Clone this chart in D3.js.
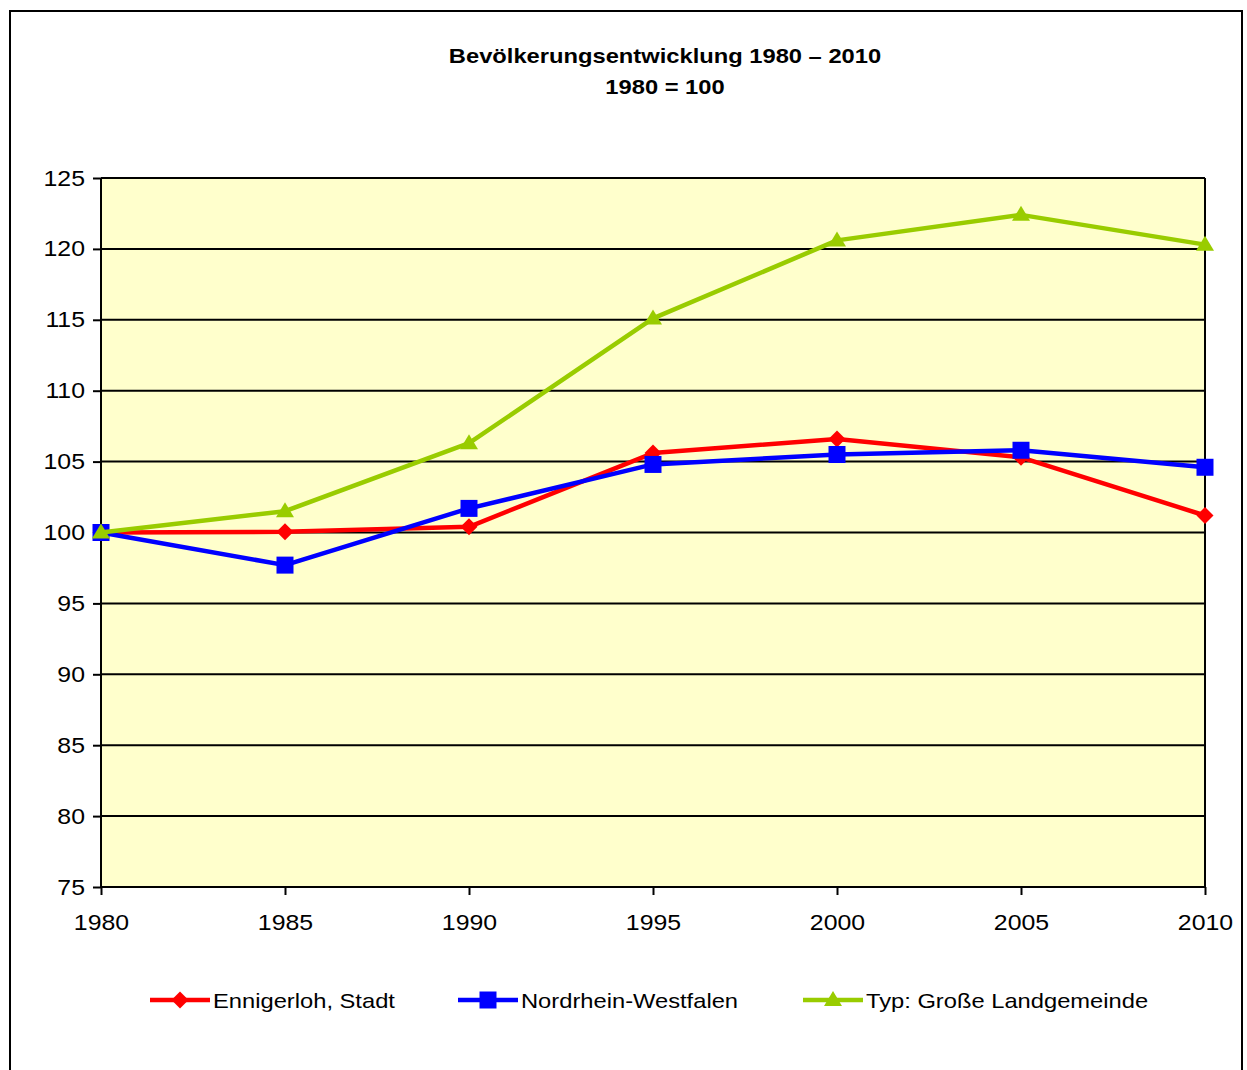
<!DOCTYPE html>
<html>
<head>
<meta charset="utf-8">
<script src="https://cdn.jsdelivr.net/npm/d3@7"></script>
<style>
body{margin:0;background:#fff;}
svg{display:block;font-family:"Liberation Sans",Arial,sans-serif;}
</style>
</head>
<body>
<div id="plot"></div>
<script>
// data
var years = [1980,1985,1990,1995,2000,2005,2010];
var ennigerloh = [100,100.05,100.4,105.6,106.6,105.3,101.2];
var nrw = [100,97.7,101.7,104.8,105.5,105.8,104.6];
var landgemeinde = [100,101.5,106.3,115.1,120.6,122.4,120.3];
var seriesNames = ['Ennigerloh, Stadt','Nordrhein-Westfalen','Typ: Große Landgemeinde'];
var yTicks = [75,80,85,90,95,100,105,110,115,120,125];

var W = 1247, H = 1070;
var margin = {t:178,r:42,b:183,l:101};
var width = W-margin.l-margin.r,
	height = H-margin.t-margin.b;
var sx = 1.13; //text in the original is a bit wider than Arial

var svg = d3.select('#plot')
	.append('svg')
	.attr('width',W)
	.attr('height',H);

//puts a horizontally stretched text at x,y
function addText(g,x,y,txt,size,anchor,bold){
	return g.append('text')
		.attr('transform','translate('+x+','+y+') scale('+sx+',1)')
		.attr('text-anchor',anchor)
		.style('font-size',size+'px')
		.style('font-weight',bold?'bold':'normal')
		.text(txt);
}

//outer frame
svg.append('rect')
	.attr('x',10).attr('y',11)
	.attr('width',1232).attr('height',1080)
	.style('fill','none').style('stroke','#000').style('stroke-width',2);

//title
addText(svg,665,63,'Bevölkerungsentwicklung 1980 – 2010',21,'middle',true);
addText(svg,665,94,'1980 = 100',21,'middle',true);

var plot = svg.append('g')
	.attr('transform','translate('+margin.l+','+margin.t+')');

var x = d3.scaleLinear().domain([1980,2010]).range([0,width]);
var y = d3.scaleLinear().domain([75,125]).range([height,0]);

plot.append('rect')
	.attr('width',width).attr('height',height)
	.style('fill','#FFFFCC');

//gridlines
plot.selectAll('.grid')
	.data(yTicks)
	.enter()
	.append('line')
	.attr('x1',0).attr('x2',width)
	.attr('y1',function(d){return y(d);})
	.attr('y2',function(d){return y(d);})
	.style('stroke','#000').style('stroke-width',2);

plot.append('line').attr('x1',width).attr('x2',width).attr('y1',0).attr('y2',height)
	.style('stroke','#000').style('stroke-width',2);

//axes
var yAxis = d3.axisLeft(y).tickValues(yTicks).tickSize(8).tickPadding(8);
var xAxis = d3.axisBottom(x).tickValues(years).tickFormat(d3.format('d')).tickSize(8).tickPadding(19);

var gy = plot.append('g').call(yAxis);
var gx = plot.append('g').attr('transform','translate(0,'+height+')').call(xAxis);
[gy,gx].forEach(function(g){
	g.select('.domain').style('stroke','#000').style('stroke-width',2);
	g.selectAll('.tick line').style('stroke','#000').style('stroke-width',2);
	g.selectAll('.tick text')
		.style('font-size','22px').style('fill','#000')
		.style('font-family','"Liberation Sans",Arial,sans-serif')
		.attr('x',function(){return (+d3.select(this).attr('x')||0)/sx;})
		.attr('transform','scale('+sx+',1)');
});
gy.select('.domain').attr('d','M0,0V'+height);
gx.select('.domain').attr('d','M0,0H'+width);

var colors = ['#FF0000','#0000FF','#99CC00'];
var shapes = [
	'M0,-8.5L8.5,0L0,8.5L-8.5,0Z',
	'M-8.5,-8.5H8.5V8.5H-8.5Z',
	'M0,-9L9,6H-9Z'
];
var allSeries = [ennigerloh,nrw,landgemeinde];

var line = d3.line()
	.x(function(d,i){return x(years[i]);})
	.y(function(d){return y(d);});

allSeries.forEach(function(vals,s){
	plot.append('path')
		.datum(vals)
		.attr('d',line)
		.style('fill','none')
		.style('stroke',colors[s])
		.style('stroke-width',4.5)
		.style('stroke-linejoin','round');
	plot.selectAll('.m'+s)
		.data(vals)
		.enter()
		.append('path')
		.attr('d',shapes[s])
		.attr('transform',function(d,i){return 'translate('+x(years[i])+','+y(d)+')';})
		.style('fill',colors[s]);
});

//legend
var legX = [150,458,803];
var legend = svg.append('g');
seriesNames.forEach(function(name,s){
	var lx = legX[s], ly = 1000;
	legend.append('line').attr('x1',lx).attr('x2',lx+60).attr('y1',ly).attr('y2',ly)
		.style('stroke',colors[s]).style('stroke-width',4.5);
	legend.append('path')
		.attr('d',shapes[s])
		.attr('transform','translate('+(lx+30)+','+ly+')')
		.style('fill',colors[s]);
	addText(legend,lx+63,ly+8,name,21,'start',false);
});
</script>
</body>
</html>
